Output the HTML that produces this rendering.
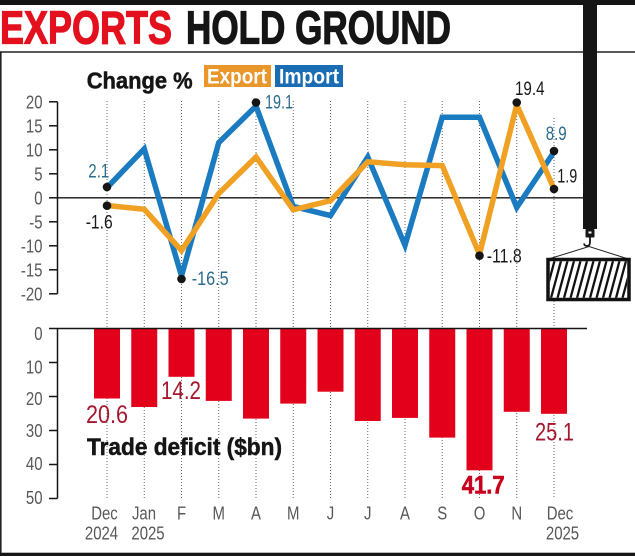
<!DOCTYPE html>
<html><head><meta charset="utf-8"><style>
html,body{margin:0;padding:0;background:#fff;}
svg{display:block;font-family:"Liberation Sans",sans-serif;}
</style></head><body>
<svg width="635" height="556" viewBox="0 0 635 556" xmlns="http://www.w3.org/2000/svg">
<defs>
<clipPath id="hc"><rect x="549.8" y="261.3" width="77.4" height="36.4"/></clipPath>
</defs>
<rect width="635" height="556" fill="#fff"/>
<rect x="0" y="0" width="635" height="5" fill="#151515"/>
<rect x="0" y="552.7" width="635" height="3.3" fill="#151515"/>
<line x1="0" y1="52" x2="635" y2="52" stroke="#222" stroke-width="1.5"/>
<line x1="0.8" y1="52" x2="0.8" y2="553" stroke="#222" stroke-width="1.6"/>

<!-- Title -->
<text x="0" y="43.3" font-size="46" font-weight="bold" fill="#e3101e" stroke="#e3101e" stroke-width="1.2" textLength="172" lengthAdjust="spacingAndGlyphs">EXPORTS</text>
<text x="186" y="43.3" font-size="46" font-weight="bold" fill="#151515" stroke="#151515" stroke-width="1.2" textLength="265" lengthAdjust="spacingAndGlyphs">HOLD GROUND</text>

<!-- Legend -->
<text x="86.7" y="88.3" font-size="23" font-weight="bold" fill="#151515" stroke="#151515" stroke-width="0.5" textLength="106" lengthAdjust="spacingAndGlyphs">Change %</text>
<rect x="204" y="65" width="67" height="22" fill="#e9962b"/>
<text x="207" y="83.5" font-size="21" font-weight="bold" fill="#fff" textLength="60" lengthAdjust="spacingAndGlyphs">Export</text>
<rect x="275" y="65" width="68" height="22" fill="#1a6db3"/>
<text x="279" y="83.5" font-size="21" font-weight="bold" fill="#fff" textLength="60" lengthAdjust="spacingAndGlyphs">Import</text>

<!-- Dotted verticals -->
<g stroke="#666" stroke-width="1" stroke-dasharray="1 2">
<line x1="107" y1="101" x2="107" y2="498"/>
<line x1="144.25" y1="101" x2="144.25" y2="498"/>
<line x1="181.5" y1="101" x2="181.5" y2="498"/>
<line x1="218.75" y1="101" x2="218.75" y2="498"/>
<line x1="256" y1="101" x2="256" y2="498"/>
<line x1="293.25" y1="101" x2="293.25" y2="498"/>
<line x1="330.5" y1="101" x2="330.5" y2="498"/>
<line x1="367.75" y1="101" x2="367.75" y2="498"/>
<line x1="405" y1="101" x2="405" y2="498"/>
<line x1="442.25" y1="101" x2="442.25" y2="498"/>
<line x1="479.5" y1="101" x2="479.5" y2="498"/>
<line x1="516.75" y1="101" x2="516.75" y2="498"/>
<line x1="554" y1="118" x2="554" y2="498"/>
</g>

<!-- Top axis -->
<g stroke="#151515" stroke-width="1.5" fill="none">
<line x1="57.5" y1="101.8" x2="57.5" y2="293.8"/>
<line x1="49" y1="101.8" x2="57.5" y2="101.8"/>
<line x1="49" y1="125.8" x2="57.5" y2="125.8"/>
<line x1="49" y1="149.8" x2="57.5" y2="149.8"/>
<line x1="49" y1="173.8" x2="57.5" y2="173.8"/>
<line x1="49" y1="197.8" x2="57.5" y2="197.8"/>
<line x1="49" y1="221.8" x2="57.5" y2="221.8"/>
<line x1="49" y1="245.8" x2="57.5" y2="245.8"/>
<line x1="49" y1="269.8" x2="57.5" y2="269.8"/>
<line x1="49" y1="293.8" x2="57.5" y2="293.8"/>
</g>
<line x1="57.5" y1="197.8" x2="583" y2="197.8" stroke="#151515" stroke-width="1.3"/>
<g transform="translate(42.5 0) scale(0.83 1)" font-size="18" text-anchor="end" fill="#58585a">
<text x="0" y="108.3">20</text>
<text x="0" y="132.3">15</text>
<text x="0" y="156.3">10</text>
<text x="0" y="180.3">5</text>
<text x="0" y="204.3">0</text>
<text x="0" y="228.3">-5</text>
<text x="0" y="252.3">-10</text>
<text x="0" y="276.3">-15</text>
<text x="0" y="300.3">-20</text>
</g>

<!-- Lines -->
<polyline fill="none" stroke="#1b7bc0" stroke-width="5.5" stroke-linejoin="miter" stroke-miterlimit="3"
 points="107,187.7 144.25,148.8 181.5,276 218.75,142.6 256,106.1 293.25,206.4 330.5,215.6 367.75,157 405,245.3 442.25,117.2 479.5,117.2 516.75,207.4 554,152"/>
<polyline fill="none" stroke="#f0a023" stroke-width="5.5" stroke-linejoin="miter" stroke-miterlimit="3"
 points="107,205.5 144.25,209.3 181.5,250.6 218.75,193.5 256,157 293.25,209.8 330.5,200.7 367.75,161.8 405,164.7 442.25,165.6 479.5,254.4 516.75,104.7 554,188.7"/>

<!-- Markers -->
<g fill="#151515">
<circle cx="107" cy="187" r="4.3"/>
<circle cx="107" cy="205.7" r="4.3"/>
<circle cx="181.5" cy="279" r="4.3"/>
<circle cx="256" cy="102.5" r="4.3"/>
<circle cx="479.5" cy="255.7" r="4.3"/>
<circle cx="516.75" cy="102.5" r="4.3"/>
<circle cx="554" cy="151" r="4.3"/>
<circle cx="554" cy="189" r="4.3"/>
</g>

<!-- Data labels top -->
<g font-size="19" lengthAdjust="spacingAndGlyphs">
<text x="88.3" y="177.3" fill="#2b6c8c" textLength="21" lengthAdjust="spacingAndGlyphs">2.1</text>
<text x="85.7" y="228.5" fill="#1a1a1a" textLength="27" lengthAdjust="spacingAndGlyphs">-1.6</text>
<text x="191.7" y="285" fill="#2b6c8c" textLength="37" lengthAdjust="spacingAndGlyphs">-16.5</text>
<text x="265" y="108.3" fill="#2b6c8c" textLength="28" lengthAdjust="spacingAndGlyphs">19.1</text>
<text x="515" y="95" fill="#1a1a1a" textLength="29.5" lengthAdjust="spacingAndGlyphs">19.4</text>
<text x="545.7" y="140" fill="#2b6c8c" textLength="21" lengthAdjust="spacingAndGlyphs">8.9</text>
<text x="557.3" y="182.5" fill="#1a1a1a" textLength="20" lengthAdjust="spacingAndGlyphs">1.9</text>
<text x="486.7" y="262.5" fill="#1a1a1a" textLength="35" lengthAdjust="spacingAndGlyphs">-11.8</text>
</g>

<!-- Bars -->
<g fill="#e2001a">
<rect x="94" y="328.5" width="26" height="70"/>
<rect x="131.25" y="328.5" width="26" height="78.5"/>
<rect x="168.5" y="328.5" width="26" height="48.3"/>
<rect x="205.75" y="328.5" width="26" height="72.4"/>
<rect x="243" y="328.5" width="26" height="90.1"/>
<rect x="280.25" y="328.5" width="26" height="75.1"/>
<rect x="317.5" y="328.5" width="26" height="63.2"/>
<rect x="354.75" y="328.5" width="26" height="92.5"/>
<rect x="392" y="328.5" width="26" height="89.4"/>
<rect x="429.25" y="328.5" width="26" height="109.1"/>
<rect x="466.5" y="328.5" width="26" height="141.8"/>
<rect x="503.75" y="328.5" width="26" height="83.3"/>
<rect x="541" y="328.5" width="26" height="85.3"/>
</g>

<!-- Bottom axis -->
<g stroke="#151515" stroke-width="1.5" fill="none">
<line x1="49" y1="328.5" x2="587" y2="328.5"/>
<line x1="57.5" y1="328.5" x2="57.5" y2="498.5"/>
<line x1="49" y1="362.5" x2="57.5" y2="362.5"/>
<line x1="49" y1="396.5" x2="57.5" y2="396.5"/>
<line x1="49" y1="430.5" x2="57.5" y2="430.5"/>
<line x1="49" y1="464.5" x2="57.5" y2="464.5"/>
<line x1="49" y1="498.5" x2="57.5" y2="498.5"/>
</g>
<g transform="translate(42.5 0) scale(0.83 1)" font-size="18" text-anchor="end" fill="#58585a">
<text x="0" y="340">0</text>
<text x="0" y="373.5">10</text>
<text x="0" y="405">20</text>
<text x="0" y="437">30</text>
<text x="0" y="470">40</text>
<text x="0" y="504">50</text>
</g>

<!-- Bar labels -->
<text x="86" y="423" font-size="25" fill="#a5172f" textLength="42" lengthAdjust="spacingAndGlyphs">20.6</text>
<text x="161" y="399" font-size="25" fill="#a5172f" textLength="40" lengthAdjust="spacingAndGlyphs">14.2</text>
<text x="535" y="440.7" font-size="25" fill="#a5172f" textLength="39" lengthAdjust="spacingAndGlyphs">25.1</text>
<text x="461.7" y="493.3" font-size="25" font-weight="bold" fill="#c8001e" stroke="#c8001e" stroke-width="0.6" textLength="43" lengthAdjust="spacingAndGlyphs">41.7</text>
<text x="87" y="455" font-size="24" font-weight="bold" fill="#151515" stroke="#151515" stroke-width="0.5" textLength="195" lengthAdjust="spacingAndGlyphs">Trade deficit ($bn)</text>

<!-- Month labels -->
<g font-size="18" fill="#58585a" text-anchor="middle">
<text transform="translate(104.5 519.5) scale(0.83 1)">Dec</text>
<text transform="translate(101.5 539.5) scale(0.83 1)">2024</text>
<text transform="translate(144 519.5) scale(0.83 1)">Jan</text>
<text transform="translate(148 539.5) scale(0.83 1)">2025</text>
<text transform="translate(181.5 519.5) scale(0.83 1)">F</text>
<text transform="translate(218.75 519.5) scale(0.83 1)">M</text>
<text transform="translate(256 519.5) scale(0.83 1)">A</text>
<text transform="translate(293.25 519.5) scale(0.83 1)">M</text>
<text transform="translate(330.5 519.5) scale(0.83 1)">J</text>
<text transform="translate(367.75 519.5) scale(0.83 1)">J</text>
<text transform="translate(405 519.5) scale(0.83 1)">A</text>
<text transform="translate(442.25 519.5) scale(0.83 1)">S</text>
<text transform="translate(479.5 519.5) scale(0.83 1)">O</text>
<text transform="translate(516.75 519.5) scale(0.83 1)">N</text>
<text transform="translate(560 519.5) scale(0.83 1)">Dec</text>
<text transform="translate(562.5 539.5) scale(0.83 1)">2025</text>
</g>

<!-- Crane -->
<rect x="583" y="0" width="14" height="229" fill="#151515"/>
<rect x="585.5" y="229" width="9" height="8.5" rx="1" fill="#151515"/>
<rect x="588.5" y="231.5" width="3" height="2" fill="#fff"/>
<path d="M590 237 v5 q0 4 -3 4 q-2.5 0 -3 -2.5" stroke="#151515" stroke-width="1.8" fill="none"/>
<polyline points="547,259.5 589,246.5 630,259.5" stroke="#222" stroke-width="1" fill="none"/>
<rect x="548" y="259.5" width="81" height="40" fill="#fff" stroke="#111" stroke-width="3.5"/>
<g clip-path="url(#hc)" stroke="#111" stroke-width="2.3">
<line x1="538" y1="298" x2="548" y2="261"/>
<line x1="544.5" y1="298" x2="554.5" y2="261"/>
<line x1="551" y1="298" x2="561" y2="261"/>
<line x1="557.5" y1="298" x2="567.5" y2="261"/>
<line x1="564" y1="298" x2="574" y2="261"/>
<line x1="570.5" y1="298" x2="580.5" y2="261"/>
<line x1="577" y1="298" x2="587" y2="261"/>
<line x1="583.5" y1="298" x2="593.5" y2="261"/>
<line x1="590" y1="298" x2="600" y2="261"/>
<line x1="596.5" y1="298" x2="606.5" y2="261"/>
<line x1="603" y1="298" x2="613" y2="261"/>
<line x1="609.5" y1="298" x2="619.5" y2="261"/>
<line x1="616" y1="298" x2="626" y2="261"/>
<line x1="622.5" y1="298" x2="632.5" y2="261"/>
<line x1="629" y1="298" x2="639" y2="261"/>
</g>
</svg>
</body></html>
